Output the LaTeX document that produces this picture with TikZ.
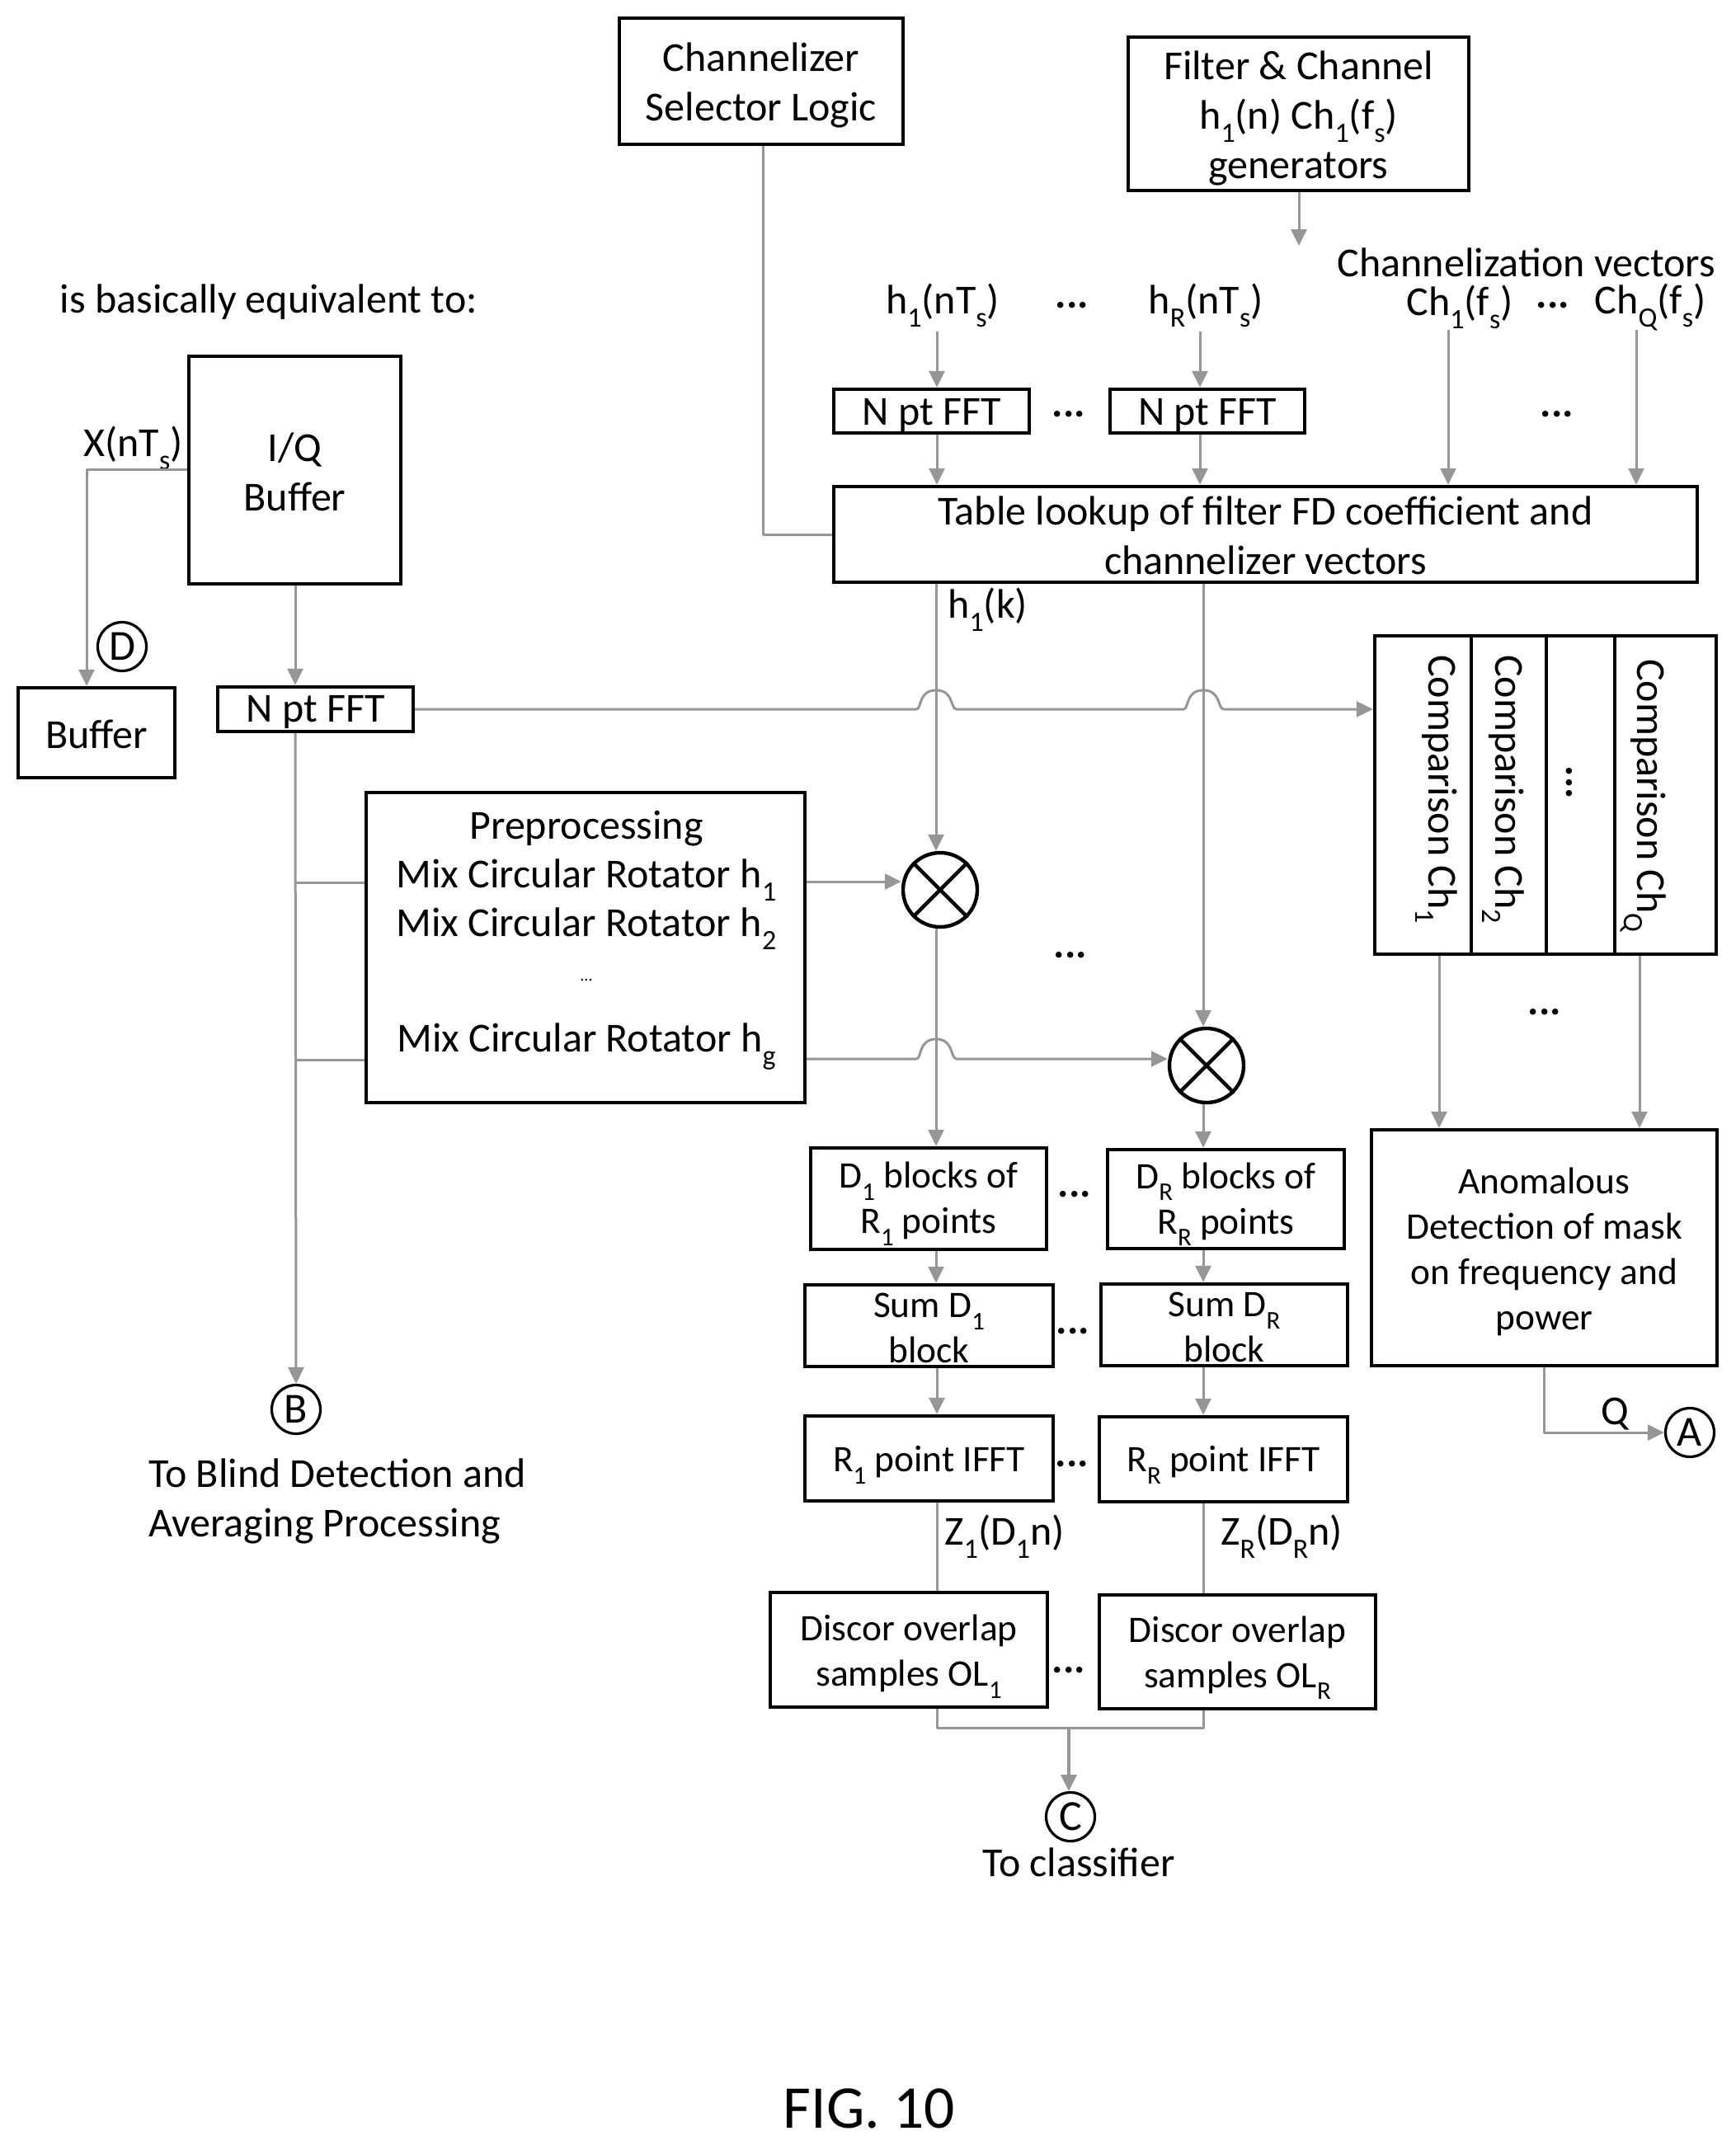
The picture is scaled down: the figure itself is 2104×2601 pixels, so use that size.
\documentclass[tikz,border=0pt]{standalone}
\usepackage{fontspec}
\setmainfont{Carlito}
\usetikzlibrary{arrows.meta}
\definecolor{wire}{HTML}{969696}
\newcommand\sbs[1]{\raisebox{-.32em}{\scalebox{.68}{#1}}}
\newcommand\eld{\textbf{...}}
% [text style]{name}{x1}{y1}{x2}{y2}{text offset}{text}
\newcommand\bx[8][lab]{%
  \pgfmathsetmacro\cxx{(#3+#5)/2}\pgfmathsetmacro\cyy{(#4+#6)/2}%
  \pgfmathsetmacro\tyy{\cyy+#7}%
  \node[box,minimum width={(#5-#3)*0.5pt},minimum height={(#6-#4)*0.5pt}] (#2) at (\cxx,\cyy) {};
  \node[#1] (#2t) at (\cxx,\tyy) {#8};}
\tikzset{
  box/.style={draw=black,line width=2.2pt,inner sep=0pt},
  lab/.style={inner sep=0pt,align=center,font=\fontsize{25}{30}\selectfont},
  slab/.style={inner sep=0pt,align=center,font=\fontsize{22.7}{27.5}\selectfont},
  conn/.style={draw=wire,line width=1.5pt,line join=round},
  arr/.style={conn,-{Triangle[width=9.5pt,length=10pt]}},
  letter/.style={circle,draw=black,line width=1.6pt,minimum size=29.5pt,inner sep=0pt,font=\fontsize{26}{30}\selectfont},
  mixer/.style={circle,draw=black,line width=2.2pt,minimum size=45pt,inner sep=0pt},
}
\begin{document}
\begin{tikzpicture}[x=0.5pt,y=-0.5pt]
\useasboundingbox[fill=white] (0,0) rectangle (2104,2601);

% top blocks
\bx{sel}{751}{22}{1095}{175}{5}{Channelizer\\Selector Logic}
\bx{gen}{1368}{45}{1781}{231}{5}{Filter \& Channel\\h\sbs{1}(n) Ch\sbs{1}(f\sbs{s})\\generators}
\coordinate (genend) at (1575,298);
\draw[arr] (1575,0 |- gen.south) -- (genend);

\node[lab] (equiv) at (326,366) {is basically equivalent to:};
\bx{iq}{229}{432}{486}{708}{2}{I/Q\\Buffer}
\node[lab,anchor=east] (xlab) at (222,543) {X(nT\sbs{s})};
\bx{buf}{22}{834}{212}{943}{2}{Buffer}
\bx{fftm}{264}{833}{501}{887}{3}{N pt FFT}
\node[letter] (D) at (148,784) {D};
\draw[arr] (iq.west |- 0,569) -- (105,569) -- (105,0 |- buf.north);
\draw[arr] (iq.south -| 358,0) -- (358,0 |- fftm.north);

% h / Ch labels
\node[lab] (h1t) at (1143,370) {h\sbs{1}(nT\sbs{s})};
\node[lab] (dots1) at (1300,370) {\eld};
\node[lab] (hrt) at (1462,370) {h\sbs{R}(nT\sbs{s})};
\node[lab] (chv) at (1851,318) {Channelization vectors};
\node[lab] (ch1t) at (1770,372) {Ch\sbs{1}(f\sbs{s})};
\node[lab] (dots2) at (1883,370) {\eld};
\node[lab] (chqt) at (2001,372) {Ch\sbs{Q}(f\sbs{s})};

\bx{fft1}{1011}{472}{1248}{525}{5}{N pt FFT}
\bx{fftr}{1346}{472}{1582}{525}{5}{N pt FFT}
\node[lab] (dots3) at (1296,502) {\eld};
\node[lab] (dots4) at (1888,502) {\eld};
\bx{tbl}{1011}{590}{2058}{706}{1}{Table lookup of filter FD coefficient and\\channelizer vectors}

\draw[arr] (1136,402) -- (1136,0 |- fft1.north);
\draw[arr] (1455,402) -- (1455,0 |- fftr.north);
\draw[arr] (1136,0 |- fft1.south) -- (1136,0 |- tbl.north);
\draw[arr] (1455,0 |- fftr.south) -- (1455,0 |- tbl.north);
\draw[arr] (1756,400) -- (1756,0 |- tbl.north);
\draw[arr] (1984,400) -- (1984,0 |- tbl.north);
\draw[conn] (925,0 |- sel.south) -- (925,648) -- (tbl.west |- 0,648);

\node[lab,anchor=west] (h1k) at (1149,739) {h\sbs{1}(k)};

% comparison
\bx{cmp1}{1667}{771}{1784}{1157}{0}{}
\bx{cmp2}{1784}{771}{1875}{1157}{0}{}
\bx{cmp3}{1875}{771}{1958}{1157}{0}{}
\bx{cmp4}{1958}{771}{2081}{1157}{0}{}
\node[lab,rotate=-90] (c1) at (1742,957) {Comparison Ch\sbs{1}};
\node[lab,rotate=-90] (c2) at (1823,957) {Comparison Ch\sbs{2}};
\node[lab,rotate=-90] (c3) at (1903,949) {\eld};
\node[lab,rotate=-90] (c4) at (1993,965) {Comparison Ch\sbs{Q}};
\node[lab] (dots5) at (1873,1227) {\eld};

% preprocessing
\bx{pre}{444}{961}{976}{1337}{0}{}
\node[lab] (p0) at (711,1005) {Preprocessing};
\node[lab] (p1) at (711,1067) {Mix Circular Rotator h\sbs{1}};
\node[lab] (p2) at (711,1126) {Mix Circular Rotator h\sbs{2}};
\node[inner sep=0pt,font=\fontsize{10}{12}\selectfont] (p3) at (711,1188) {...};
\node[lab] (p4) at (711,1269) {Mix Circular Rotator h\sbs{g}};

\node[mixer] (m1) at (1140,1079) {};
\node[mixer] (m2) at (1463,1292) {};
\foreach \m in {m1,m2}{
  \draw[black,line width=2.2pt] (\m.45) -- (\m.225) (\m.135) -- (\m.-45);
}
\node[lab] (dots6) at (1298,1158) {\eld};

% main wires from the FFT
\node[letter] (B) at (359,1709) {B};
\draw[arr] (358,0 |- fftm.south) -- (B.north);
\draw[conn] (358,1070) -- (pre.west |- 0,1070);
\draw[conn] (358,1285) -- (pre.west |- 0,1285);
\draw[arr] (fftm.east |- 0,860) -- (1111,860) .. controls (1118,860) and (1113,837) .. (1135,837)
   .. controls (1157,837) and (1152,860) .. (1160,860) -- (1435,860)
   .. controls (1442,860) and (1437,837) .. (1459,837)
   .. controls (1481,837) and (1476,860) .. (1484,860) -- (cmp1.west |- 0,860);
\draw[arr] (1135,0 |- tbl.south) -- (1135,0 |- m1.north);
\draw[arr] (1459,0 |- tbl.south) -- (1459,0 |- m2.north);
\draw[arr] (pre.east |- 0,1069) -- (m1.west |- 0,1069);
\draw[arr] (pre.east |- 0,1284) -- (1111,1284) .. controls (1118,1284) and (1113,1260) .. (1135,1260)
   .. controls (1157,1260) and (1152,1284) .. (1160,1284) -- (m2.west |- 0,1284);

% anomalous
\bx[slab]{ano}{1663}{1370}{2082}{1656}{5}{Anomalous\\Detection of mask\\on frequency and\\power}
\draw[arr] (1745,0 |- cmp1.south) -- (1745,0 |- ano.north);
\draw[arr] (1988,0 |- cmp4.south) -- (1988,0 |- ano.north);
\node[letter] (A) at (2049,1737) {A};
\draw[arr] (1872,0 |- ano.south) -- (1872,1737) -- (A.west);
\node[lab] (q) at (1958,1715) {Q};

% right column
\bx[slab]{d1}{983}{1392}{1269}{1515}{6}{D\sbs{1} blocks of\\R\sbs{1} points}
\bx[slab]{dr}{1343}{1394}{1630}{1514}{6}{D\sbs{R} blocks of\\R\sbs{R} points}
\bx[slab]{s1}{976}{1558}{1277}{1657}{3}{Sum D\sbs{1}\\block}
\bx[slab]{sr}{1335}{1557}{1634}{1656}{3}{Sum D\sbs{R}\\block}
\bx[slab]{i1}{976}{1717}{1277}{1820}{8}{R\sbs{1} point IFFT}
\bx[slab]{ir}{1333}{1718}{1634}{1821}{7}{R\sbs{R} point IFFT}
\bx[slab]{o1}{934}{1931}{1270}{2070}{8}{Discor overlap\\samples OL\sbs{1}}
\bx[slab]{or}{1333}{1934}{1668}{2072}{7}{Discor overlap\\samples OL\sbs{R}}
\node[lab] (e1) at (1303,1448) {\eld};
\node[lab] (e2) at (1301,1614) {\eld};
\node[lab] (e3) at (1300,1775) {\eld};
\node[lab] (e4) at (1296,2025) {\eld};
\node[lab] (z1) at (1218,1863) {Z\sbs{1}(D\sbs{1}n)};
\node[lab] (zr) at (1554,1863) {Z\sbs{R}(D\sbs{R}n)};
\draw[arr] (1135,0 |- m1.south) -- (1135,0 |- d1.north);
\draw[arr] (1459,0 |- m2.south) -- (1459,0 |- dr.north);
\draw[arr] (1135,0 |- d1.south) -- (1135,0 |- s1.north);
\draw[arr] (1459,0 |- dr.south) -- (1459,0 |- sr.north);
\draw[arr] (1136,0 |- s1.south) -- (1136,0 |- i1.north);
\draw[arr] (1459,0 |- sr.south) -- (1459,0 |- ir.north);
\draw[conn] (1136,0 |- i1.south) -- (1136,0 |- o1.north);
\draw[conn] (1459,0 |- ir.south) -- (1459,0 |- or.north);
\node[letter] (C) at (1298,2203) {C};
\coordinate (merge) at (1296,2095);
\draw[conn] (1136,0 |- o1.south) -- (1136,2095) -- (1459,2095) -- (1459,0 |- or.south);
\draw[arr,line width=2pt] (merge) -- (1296,0 |- C.north);

% captions
\node[lab] (cls) at (1308,2258) {To classifier};
\node[lab,align=left,anchor=west] (blind) at (180,1820) {To Blind Detection and\\Averaging Processing};
\node[inner sep=0pt,font=\fontsize{36.8}{40}\selectfont] (fig) at (1054,2557) {FIG. 10};
\end{tikzpicture}
\end{document}
